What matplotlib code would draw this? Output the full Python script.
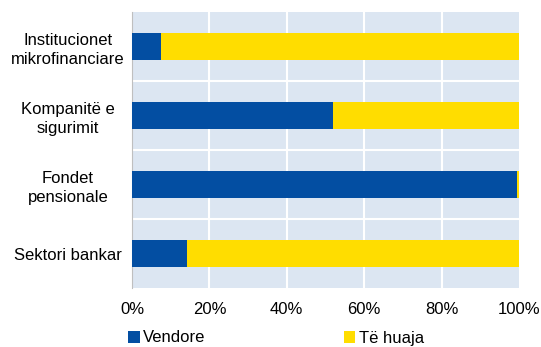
import matplotlib.pyplot as plt
from matplotlib.ticker import PercentFormatter

categories = ["Institucionet\nmikrofinanciare", "Kompanitë e\nsigurimit", "Fondet\npensionale", "Sektori bankar"]
vendore = [7.6, 52.0, 99.5, 14.3]
te_huaja = [100 - v for v in vendore]

plt.rcParams['font.family'] = ['Liberation Sans', 'DejaVu Sans']

fig = plt.figure(figsize=(5.41, 3.47), dpi=100)
ax = fig.add_axes([132/541, 1 - 288/347, 387/541, 276/347])

y = list(range(len(categories)))[::-1]
ax.barh(y, vendore, height=0.39, color='#034EA2', label='Vendore', zorder=3)
ax.barh(y, te_huaja, left=vendore, height=0.39, color='#FFDD00', label='Të huaja', zorder=3)

ax.set_facecolor('#DCE6F2')
ax.set_xlim(0, 100)
ax.set_ylim(-0.5, 3.5)
ax.set_xticks([0, 20, 40, 60, 80, 100])
ax.xaxis.set_major_formatter(PercentFormatter(decimals=0))
ax.set_yticks(y)
ax.set_yticklabels(categories, fontsize=12, ha='center', linespacing=1.3)
ax.tick_params(axis='y', length=0, pad=46)
ax.tick_params(axis='x', length=0, labelsize=12, pad=10)

for xv in [20, 40, 60, 80]:
    ax.axvline(xv, color='white', lw=1.5, zorder=1)
for yv in [0.5, 1.5, 2.5]:
    ax.axhline(yv, color='white', lw=1.5, zorder=1)

for s in ['top', 'right', 'bottom']:
    ax.spines[s].set_visible(False)
ax.spines['left'].set_color('#BFBFBF')

fig.legend(loc='center left', bbox_to_anchor=(128/541, 1 - 338/347), ncol=2, frameon=False,
           fontsize=12, handlelength=0.7, handleheight=0.7, handletextpad=0.2,
           columnspacing=8.3, borderaxespad=0, borderpad=0)

fig.savefig('out.png', dpi=100)
